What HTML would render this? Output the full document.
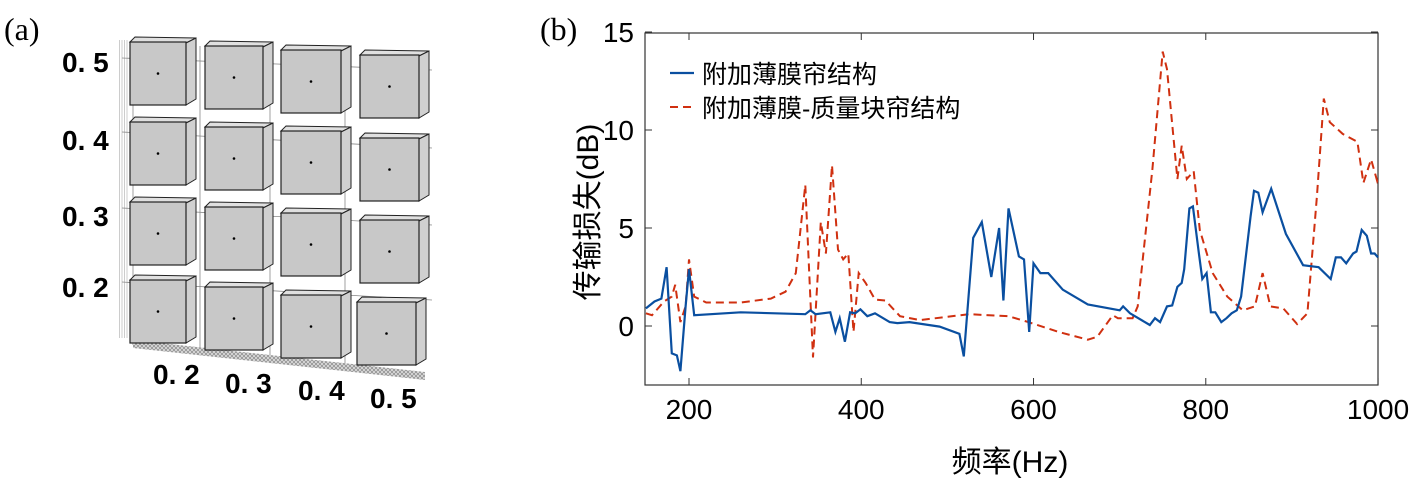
<!DOCTYPE html>
<html><head><meta charset="utf-8">
<style>
html,body{margin:0;padding:0;background:#fff;}
svg{display:block;}
text{font-family:"Liberation Sans","Noto Sans CJK SC",sans-serif;}
</style></head>
<body>
<svg id="s" width="1417" height="484" viewBox="0 0 1417 484" xmlns="http://www.w3.org/2000/svg">
<defs>
<pattern id="hatch" width="4" height="4" patternUnits="userSpaceOnUse">
<rect width="4" height="4" fill="#ddd"/><path d="M0 0L4 4M4 0L0 4" stroke="#888" stroke-width="0.7"/>
</pattern>
</defs>
<text x="4" y="40" font-size="32" style="font-family:'Liberation Serif',serif">(a)</text>
<text x="540" y="40" font-size="32" style="font-family:'Liberation Serif',serif">(b)</text>
<g id="pa"></g>
<g id="pb"></g>
</svg>
<script>
var NS="http://www.w3.org/2000/svg";
function el(p,t,a,txt){var e=document.createElementNS(NS,t);for(var k in a)e.setAttribute(k,a[k]);if(txt!==undefined)e.textContent=txt;p.appendChild(e);return e;}
var pa=document.getElementById('pa');
for(var i=0;i<4;i++){el(pa,'line',{x1:119.5+i*2.5,y1:40,x2:119.5+i*2.5,y2:338,stroke:'#aaa','stroke-width':0.6});}
[133,200,270,345].forEach(function(x,i){el(pa,'line',{x1:x,y1:42+i*4,x2:x,y2:345+i*8,stroke:'#888','stroke-width':0.8});});
[[58,432,70],[132,432,148],[208,432,225],[282,432,300]].forEach(function(r){el(pa,'line',{x1:122,y1:r[0],x2:r[1],y2:r[2],stroke:'#888','stroke-width':0.8});});
el(pa,'polygon',{points:'133,340 425,372 425,380 133,348',fill:'url(#hatch)'});
var rows=[[42,46,50,55],[122,127,131,138],[202,207,213,220],[280,287,295,302]];
var cols=[[130,186],[205,263],[281,341],[360,419]];
for(var r=0;r<4;r++)for(var c=0;c<4;c++){
 var x0=cols[c][0]+(r==3&&c==3?-3:0),x1=cols[c][1]+(r==3&&c==3?-3:0),y0=rows[r][c],h=63;
 el(pa,'polygon',{points:(x0)+','+y0+' '+(x0+5)+','+(y0-5)+' '+(x1+10)+','+(y0-4)+' '+(x1)+','+(y0+1),fill:'#e0e0e0',stroke:'#222','stroke-width':1});
 el(pa,'polygon',{points:x1+','+(y0+1)+' '+(x1+10)+','+(y0-4)+' '+(x1+10)+','+(y0+h-6)+' '+x1+','+(y0+h),fill:'#d0d0d0',stroke:'#222','stroke-width':1});
 el(pa,'rect',{x:x0,y:y0,width:x1-x0,height:h,fill:'#c8c8c8',stroke:'#222','stroke-width':1.2});
 el(pa,'circle',{cx:(x0+x1)/2,cy:y0+h/2,r:1.3,fill:'#000'});
}
[['0. 5',72],['0. 4',150],['0. 3',226],['0. 2',297]].forEach(function(t){el(pa,'text',{x:62,y:t[1],'font-size':28,'font-weight':'bold'},t[0]);});
[['0. 2',153,384],['0. 3',225,393],['0. 4',298,400],['0. 5',370,408]].forEach(function(t){el(pa,'text',{x:t[1],y:t[2],'font-size':28,'font-weight':'bold'},t[0]);});

var pb=document.getElementById('pb');
var L=645,R=1378,T=33,B=385;
function X(f){return 689+(f-200)*0.8613;}
function Y(v){return 326-v*19.6;}
el(pb,'rect',{x:L,y:T,width:R-L,height:B-T,fill:'none',stroke:'#333','stroke-width':1.2});
[200,400,600,800,1000].forEach(function(f){var x=X(f);
 el(pb,'line',{x1:x,y1:B,x2:x,y2:B-7,stroke:'#333'});el(pb,'line',{x1:x,y1:T,x2:x,y2:T+7,stroke:'#333'});
 el(pb,'text',{x:x,y:419,'font-size':28,'text-anchor':'middle'},String(f));});
[0,5,10,15].forEach(function(v){var y=Y(v);
 el(pb,'line',{x1:L,y1:y,x2:L+7,y2:y,stroke:'#333'});el(pb,'line',{x1:R,y1:y,x2:R-7,y2:y,stroke:'#333'});
 el(pb,'text',{x:634,y:y+10,'font-size':28,'text-anchor':'end'},String(v));});
el(pb,'text',{x:1010,y:472,'font-size':30,'text-anchor':'middle'},'频率(Hz)');
el(pb,'text',{x:0,y:0,'font-size':30,'text-anchor':'middle',transform:'translate(598,212) rotate(-90)'},'传输损失(dB)');
var blue=[[150,.9],[160,1.25],[168,1.4],[174,3],[180,-1.4],[186,-1.5],[190,-2.3],[196,1],[200,2.9],[206,.55],[260,.7],[335,.6],[341,.8],[347,.6],[364,.7],[370,-.3],[375,.4],[381,-.8],[387,.7],[393,.65],[399,.85],[407,.5],[416,.65],[433,.2],[442,.15],[456,.2],[491,-.03],[514,-.4],[519,-1.55],[530,4.5],[540,5.3],[551,2.5],[560,5],[565,1.3],[571,6],[583,3.55],[589,3.4],[595,-.3],[600,3.2],[608,2.7],[617,2.7],[634,1.85],[663,1.1],[700,.8],[704,1],[712,.65],[735,.05],[741,.4],[747,.2],[755,1],[761,1.05],[767,2],[772,2.2],[775,2.9],[781,6],[785,6.1],[792,3.7],[796,2.4],[801,2.7],[806,.7],[811,.7],[818,.2],[824,.4],[830,.65],[836,.8],[841,1.5],[852,5.6],[856,6.9],[861,6.8],[866,5.8],[876,7],[893,4.7],[913,3.1],[931,3],[945,2.4],[951,3.5],[957,3.5],[963,3.2],[971,3.7],[975,3.8],[981,4.9],[987,4.6],[992,3.7],[996,3.7],[1000,3.5]];
var red=[[150,.65],[157,.55],[171,1.25],[180,1.5],[184,2.1],[190,.2],[196,1],[200,3.4],[206,1.5],[220,1.2],[260,1.2],[295,1.4],[312,1.75],[324,2.7],[335,7.2],[344,-1.6],[353,5.3],[359,3.7],[366,8.2],[373,3.9],[379,3.4],[385,3.7],[391,-.3],[397,2.7],[405,2.2],[416,1.35],[428,1.3],[445,.5],[468,.3],[525,.6],[571,.5],[594,.2],[629,-.3],[663,-.7],[674,-.55],[692,.55],[698,.4],[715,.4],[721,1],[738,8],[750,14],[755,13.1],[767,7.5],[772,9.2],[778,7.5],[786,7.9],[793,4.9],[808,2.7],[825,1.5],[843,.8],[857,1],[866,2.7],[875,1],[890,.9],[906,.1],[918,.65],[929,6.6],[937,11.6],[944,10.4],[959,9.8],[976,9.4],[983,7.3],[992,8.5],[999,7.4],[1000,7.5]];
function pts(a){return a.map(function(p){return X(p[0]).toFixed(1)+','+Y(p[1]).toFixed(1);}).join(' ');}
el(pb,'polyline',{points:pts(red),fill:'none',stroke:'#d03010','stroke-width':2,'stroke-dasharray':'8,5'});
el(pb,'polyline',{points:pts(blue),fill:'none',stroke:'#0a4fa0','stroke-width':2.2});
el(pb,'line',{x1:670,y1:73,x2:694,y2:73,stroke:'#0a4fa0','stroke-width':2.2});
el(pb,'line',{x1:670,y1:107,x2:694,y2:107,stroke:'#d03010','stroke-width':2,'stroke-dasharray':'8,5'});
el(pb,'text',{x:702,y:83,'font-size':25},'附加薄膜帘结构');
el(pb,'text',{x:702,y:117,'font-size':25},'附加薄膜-质量块帘结构');
</script>
</body></html>
